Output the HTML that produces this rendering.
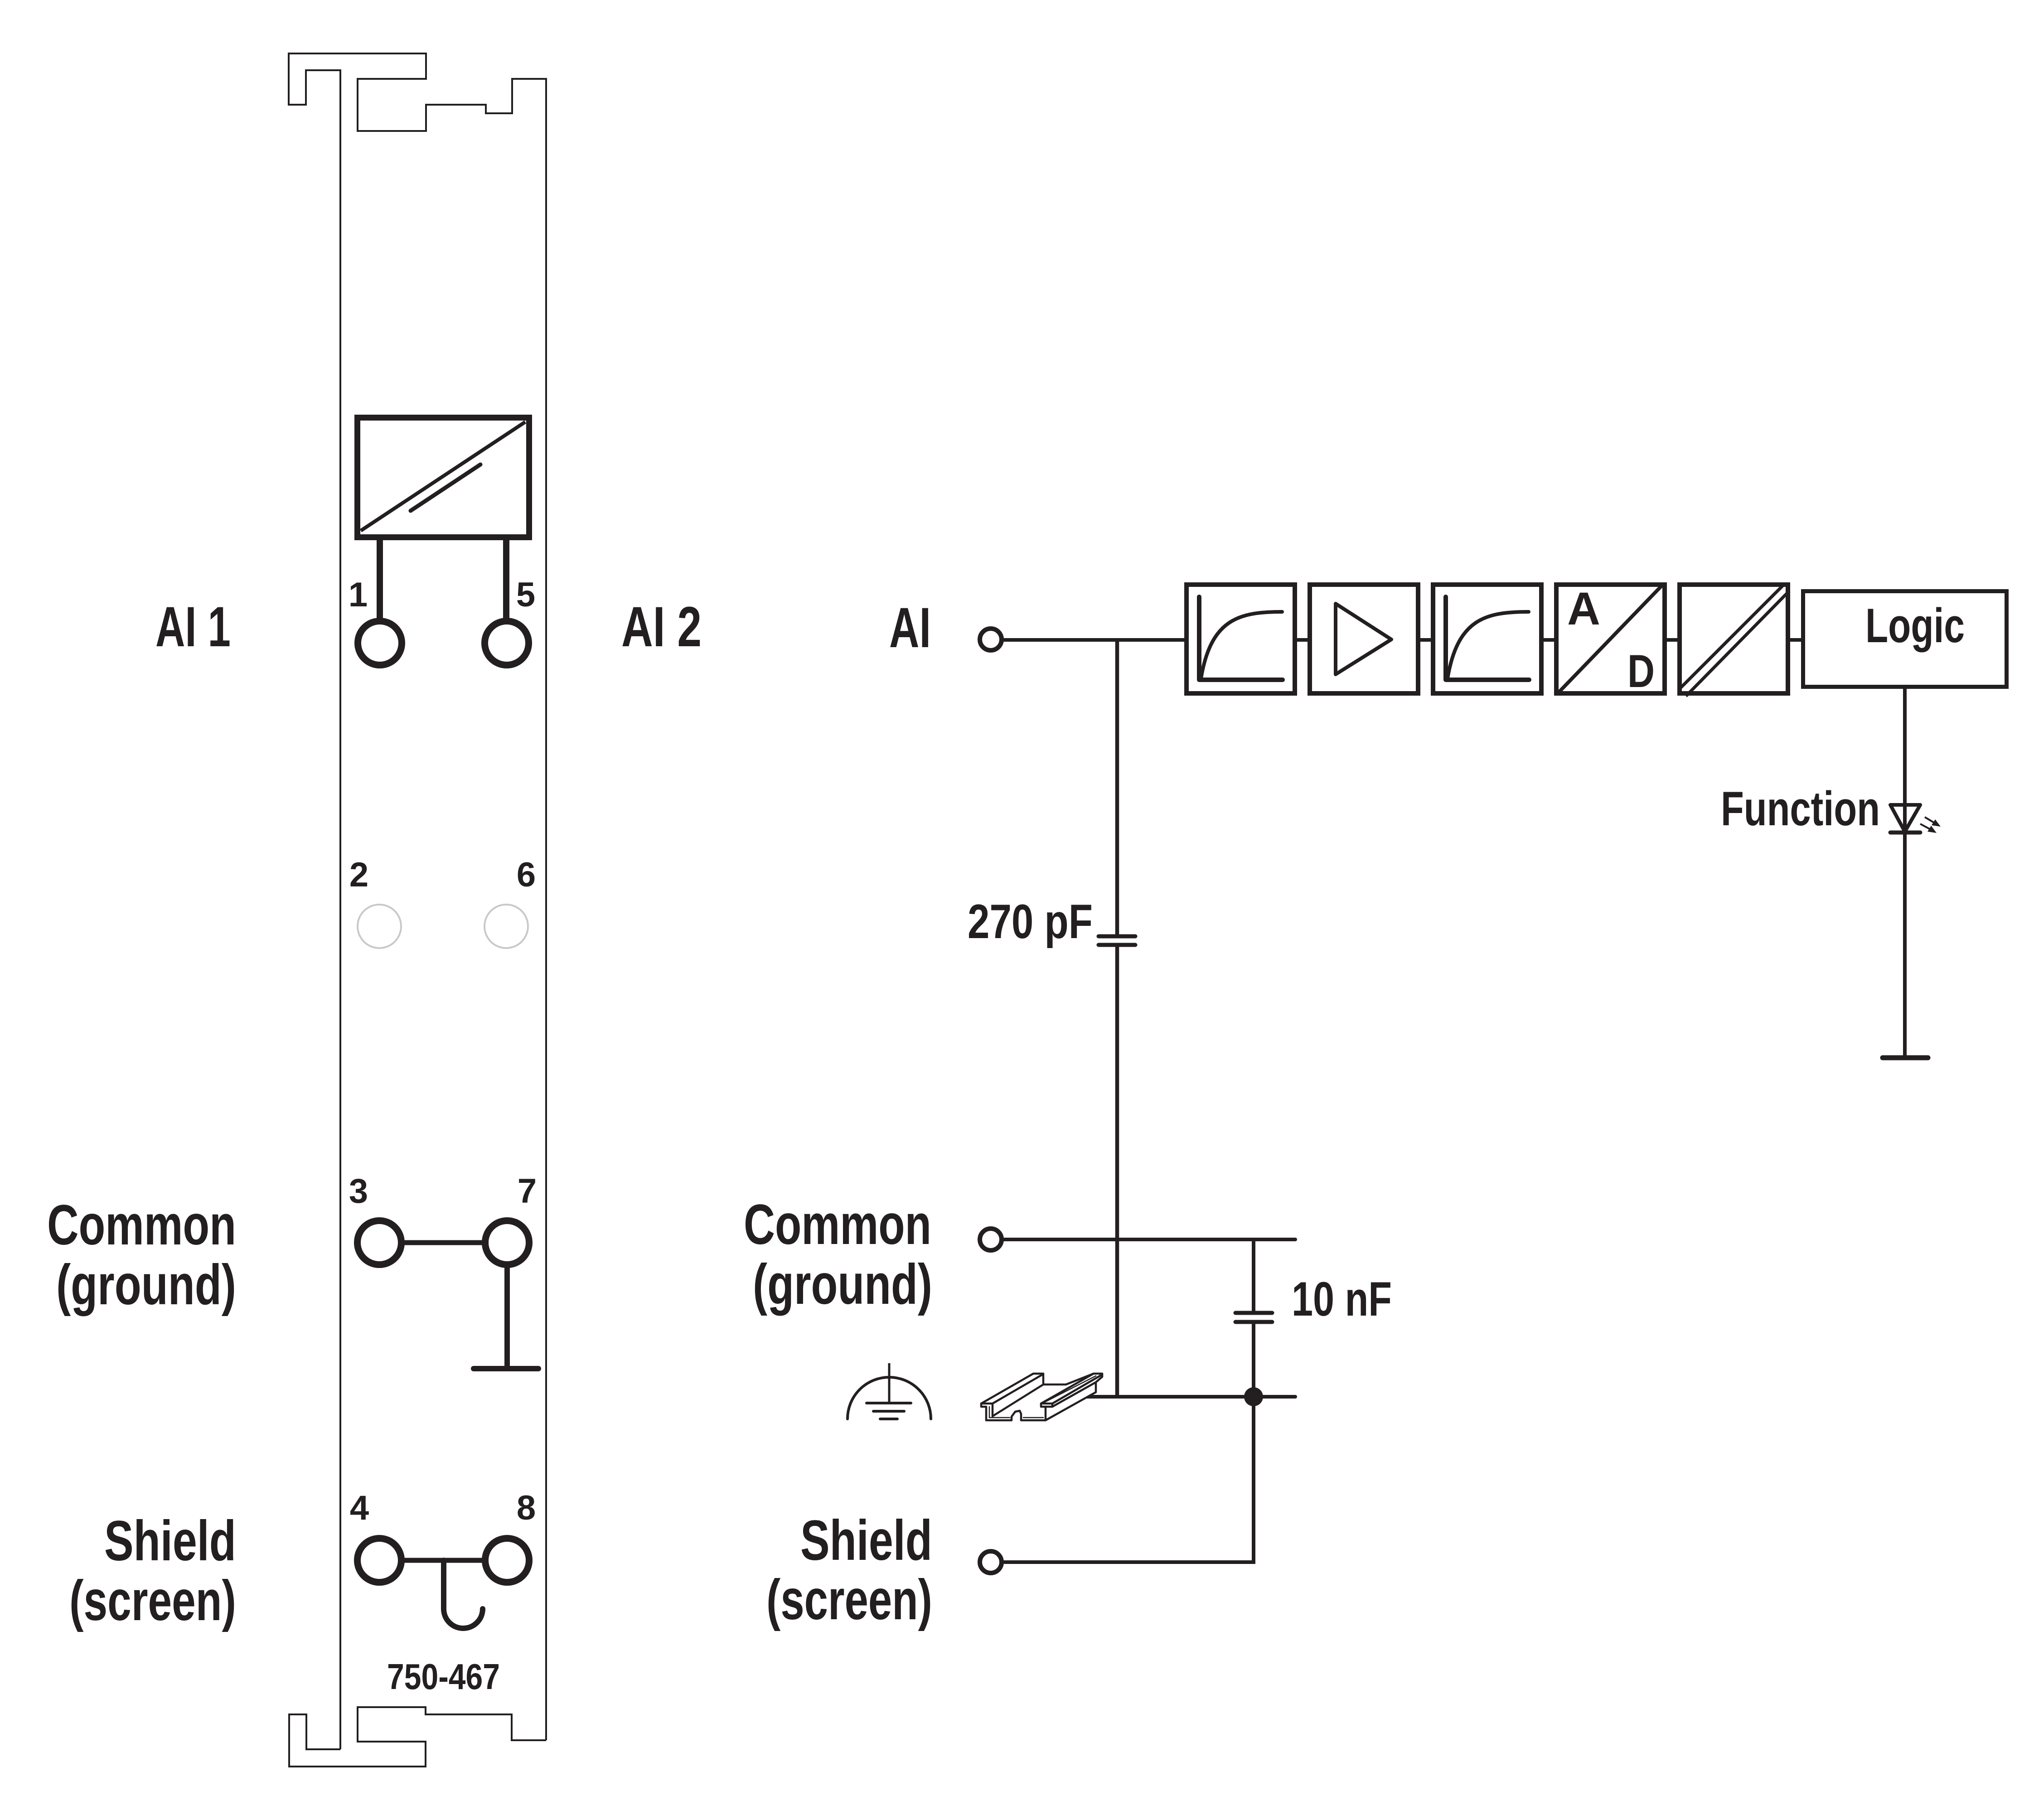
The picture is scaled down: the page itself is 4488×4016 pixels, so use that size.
<!DOCTYPE html>
<html>
<head>
<meta charset="utf-8">
<style>
html,body{margin:0;padding:0;background:#fff;}
svg{display:block;}
text{font-family:"Liberation Sans",Arial,sans-serif;font-weight:bold;fill:#231f20;}
</style>
</head>
<body>
<svg xmlns="http://www.w3.org/2000/svg" width="4488" height="4016" viewBox="0 0 4488 4016">
<rect x="0" y="0" width="4488" height="4016" fill="#fff"/>
<g fill="none" stroke="#231f20" stroke-linejoin="miter">

<!-- ===== Left module housing ===== -->
<path d="M751,3860 V155 H675 V231 H637 V118 H940 V174 H789 V289 H940 V231 H1072 V250 H1130 V174 H1205 V3840" stroke-width="4"/>
<path d="M751,3860 H676 V3783 H638 V3898 H939 V3843 H789 V3767 H939 V3783 H1129 V3840 H1205" stroke-width="4"/>

<!-- converter symbol -->
<rect x="788.5" y="921.5" width="379" height="264" stroke-width="13"/>
<line x1="796" y1="1171" x2="1159" y2="931" stroke-width="8"/>
<line x1="906" y1="1127" x2="1060" y2="1025" stroke-width="9" stroke-linecap="round"/>
<line x1="838" y1="1192" x2="838" y2="1371" stroke-width="14"/>
<line x1="1117" y1="1192" x2="1117" y2="1371" stroke-width="14"/>

<!-- terminals 1 / 5 -->
<circle cx="838" cy="1419" r="48.5" stroke-width="15"/>
<circle cx="1118" cy="1419" r="48.5" stroke-width="15"/>

<!-- terminals 2 / 6 (grey) -->
<circle cx="837" cy="2044" r="48" stroke-width="4" stroke="#c9c9c9"/>
<circle cx="1117" cy="2044" r="48" stroke-width="4" stroke="#c9c9c9"/>

<!-- terminals 3 / 7 -->
<circle cx="837" cy="2742" r="48.5" stroke-width="15"/>
<circle cx="1119" cy="2742" r="48.5" stroke-width="15"/>
<line x1="892" y1="2742" x2="1064" y2="2742" stroke-width="11"/>
<line x1="1119" y1="2797" x2="1119" y2="3020" stroke-width="12"/>
<line x1="1045" y1="3020" x2="1188" y2="3020" stroke-width="12" stroke-linecap="round"/>

<!-- terminals 4 / 8 -->
<circle cx="837" cy="3443" r="48.5" stroke-width="15"/>
<circle cx="1119" cy="3443" r="48.5" stroke-width="15"/>
<line x1="892" y1="3443" x2="1064" y2="3443" stroke-width="11"/>
<path d="M979,3443 V3550 A43,43 0 0 0 1065,3550" stroke-width="12" stroke-linecap="round"/>

<!-- ===== Right schematic ===== -->
<!-- AI input -->
<circle cx="2186" cy="1411" r="24" stroke-width="10"/>
<line x1="2210" y1="1412" x2="3974" y2="1412" stroke-width="8"/>
<line x1="2465" y1="1412" x2="2465" y2="2066" stroke-width="8.5"/>
<line x1="2465" y1="2085" x2="2465" y2="3086" stroke-width="8.5"/>
<line x1="2424" y1="2066" x2="2505" y2="2066" stroke-width="9" stroke-linecap="round"/>
<line x1="2424" y1="2085" x2="2505" y2="2085" stroke-width="9" stroke-linecap="round"/>

<!-- signal chain boxes -->
<g fill="#fff" stroke-width="10">
<rect x="2618" y="1290" width="239" height="240"/>
<rect x="2890" y="1290" width="239" height="240"/>
<rect x="3162" y="1290" width="239" height="240"/>
<rect x="3434" y="1290" width="239" height="240"/>
<rect x="3706" y="1290" width="239" height="240"/>
<rect x="3978.5" y="1304.5" width="449" height="211" stroke-width="9"/>
</g>

<!-- box 1: filter -->
<path d="M2646,1317 V1500 H2830" stroke-width="10" stroke-linecap="round" stroke-linejoin="round"/>
<path d="M2650,1497 C2672,1365 2735,1350 2829,1350" stroke-width="8" stroke-linecap="round"/>
<!-- box 2: amplifier -->
<path d="M2947,1332 V1488 L3070,1411 Z" stroke-width="8" stroke-linejoin="round"/>
<!-- box 3: filter -->
<path d="M3190,1317 V1500 H3374" stroke-width="10" stroke-linecap="round" stroke-linejoin="round"/>
<path d="M3194,1497 C3216,1365 3279,1350 3373,1350" stroke-width="8" stroke-linecap="round"/>
<!-- box 4: A/D -->
<line x1="3437" y1="1530" x2="3667" y2="1292" stroke-width="8"/>
<!-- box 5: double diagonal -->
<line x1="3706" y1="1520" x2="3934" y2="1292" stroke-width="7"/>
<line x1="3720" y1="1536" x2="3948" y2="1304" stroke-width="7"/>

<!-- Logic -> LED -> ground -->
<line x1="4203" y1="1520" x2="4203" y2="2334" stroke-width="8"/>
<path d="M4171,1776 H4237 L4203,1835 Z" stroke-width="8" stroke-linejoin="round"/>
<line x1="4171" y1="1837" x2="4237" y2="1837" stroke-width="9" stroke-linecap="round"/>
<line x1="4247" y1="1803" x2="4272" y2="1818" stroke-width="4"/>
<line x1="4237" y1="1818" x2="4263" y2="1832" stroke-width="4"/>
<line x1="4154" y1="2334" x2="4254" y2="2334" stroke-width="11" stroke-linecap="round"/>

<!-- Common -->
<circle cx="2186" cy="2735" r="24" stroke-width="10"/>
<line x1="2210" y1="2735" x2="2858" y2="2735" stroke-width="8" stroke-linecap="round"/>
<line x1="2766" y1="2735" x2="2766" y2="2897" stroke-width="8"/>
<line x1="2726" y1="2897" x2="2807" y2="2897" stroke-width="9" stroke-linecap="round"/>
<line x1="2726" y1="2917" x2="2807" y2="2917" stroke-width="9" stroke-linecap="round"/>
<line x1="2766" y1="2917" x2="2766" y2="3447" stroke-width="8"/>

<!-- rail line -->
<line x1="2381" y1="3082" x2="2858" y2="3082" stroke-width="8" stroke-linecap="round"/>

<!-- Shield -->
<circle cx="2186" cy="3447" r="24" stroke-width="10"/>
<line x1="2210" y1="3447" x2="2770" y2="3447" stroke-width="8"/>

<!-- PE symbol -->
<path d="M1870,3131 A92,92 0 0 1 2054,3131" stroke-width="6" stroke-linecap="round"/>
<line x1="1962" y1="3008" x2="1962" y2="3096" stroke-width="5"/>
<line x1="1912" y1="3096" x2="2010" y2="3096" stroke-width="6" stroke-linecap="round"/>
<line x1="1927" y1="3114" x2="1995" y2="3114" stroke-width="6" stroke-linecap="round"/>
<line x1="1942" y1="3131" x2="1980" y2="3131" stroke-width="6" stroke-linecap="round"/>

<!-- DIN rail icon -->
<g stroke-width="4.5" stroke-linejoin="round" stroke-linecap="round" fill="#fff">
<path d="M2165,3097 L2280,3031 L2302,3031 L2302,3055 L2352,3055 L2413,3031 L2432,3031 L2432,3038 L2418,3050 L2418,3072 L2307,3134 L2253,3134 L2253,3120 L2250,3113 L2240,3115 L2232,3126 L2232,3134 L2176,3134 L2176,3104 L2165,3104 Z"/>
<path d="M2165,3097 H2190 L2302,3032" fill="none"/>
<path d="M2190,3097 V3125 L2302,3055" fill="none"/>
<path d="M2183,3104 V3128 H2228" fill="none" stroke-width="2.5"/>
<path d="M2297,3097 H2322 L2432,3033" fill="none"/>
<path d="M2297,3097 L2413,3031" fill="none"/>
<path d="M2305,3094 L2418,3036" fill="none" stroke-width="2.5"/>
<path d="M2322,3097 V3104 H2307 V3134" fill="none"/>
<path d="M2297,3097 V3104 H2307" fill="none"/>
<path d="M2322,3104 L2418,3050" fill="none"/>
<path d="M2258,3128 H2302" fill="none" stroke-width="2.5"/>
</g>
</g>

<!-- junction dot -->
<circle cx="2766" cy="3082" r="21" fill="#231f20"/>
<!-- LED arrowheads -->
<polygon points="4282,1824 4262,1821 4270,1808" fill="#231f20"/>
<polygon points="4273,1838 4253,1835 4261,1822" fill="#231f20"/>

<!-- ===== Text ===== -->
<g font-size="125">
<text x="343" y="1426" textLength="166" lengthAdjust="spacingAndGlyphs">AI 1</text>
<text x="1371" y="1426" textLength="177" lengthAdjust="spacingAndGlyphs">AI 2</text>
<text x="104" y="2746" textLength="417" lengthAdjust="spacingAndGlyphs">Common</text>
<text x="124" y="2878" textLength="397" lengthAdjust="spacingAndGlyphs">(ground)</text>
<text x="230" y="3443" textLength="291" lengthAdjust="spacingAndGlyphs">Shield</text>
<text x="153" y="3575" textLength="368" lengthAdjust="spacingAndGlyphs">(screen)</text>

<text x="1962" y="1428" textLength="92" lengthAdjust="spacingAndGlyphs">AI</text>
<text x="1641" y="2745" textLength="414" lengthAdjust="spacingAndGlyphs">Common</text>
<text x="1661" y="2877" textLength="396" lengthAdjust="spacingAndGlyphs">(ground)</text>
<text x="1766" y="3442" textLength="291" lengthAdjust="spacingAndGlyphs">Shield</text>
<text x="1691" y="3573" textLength="366" lengthAdjust="spacingAndGlyphs">(screen)</text>
</g>
<g font-size="107">
<text x="2135" y="2070" textLength="276" lengthAdjust="spacingAndGlyphs">270 pF</text>
<text x="2850" y="2903" textLength="221" lengthAdjust="spacingAndGlyphs">10 nF</text>
<text x="3797" y="1821" textLength="351" lengthAdjust="spacingAndGlyphs">Function</text>
<text x="4116" y="1417" textLength="219" lengthAdjust="spacingAndGlyphs">Logic</text>
</g>
<text x="854" y="3727" font-size="80" textLength="249" lengthAdjust="spacingAndGlyphs">750-467</text>

<g font-size="102">
<text x="3458" y="1378" textLength="73" lengthAdjust="spacingAndGlyphs">A</text>
<text x="3591" y="1516" textLength="60" lengthAdjust="spacingAndGlyphs">D</text>
</g>

<g font-size="76" text-anchor="middle">
<text x="790" y="1338">1</text>
<text x="1160" y="1338">5</text>
<text x="792" y="1956">2</text>
<text x="1161" y="1956">6</text>
<text x="791" y="2654">3</text>
<text x="1163" y="2654">7</text>
<text x="793" y="3353">4</text>
<text x="1161" y="3353">8</text>
</g>
</svg>
</body>
</html>
